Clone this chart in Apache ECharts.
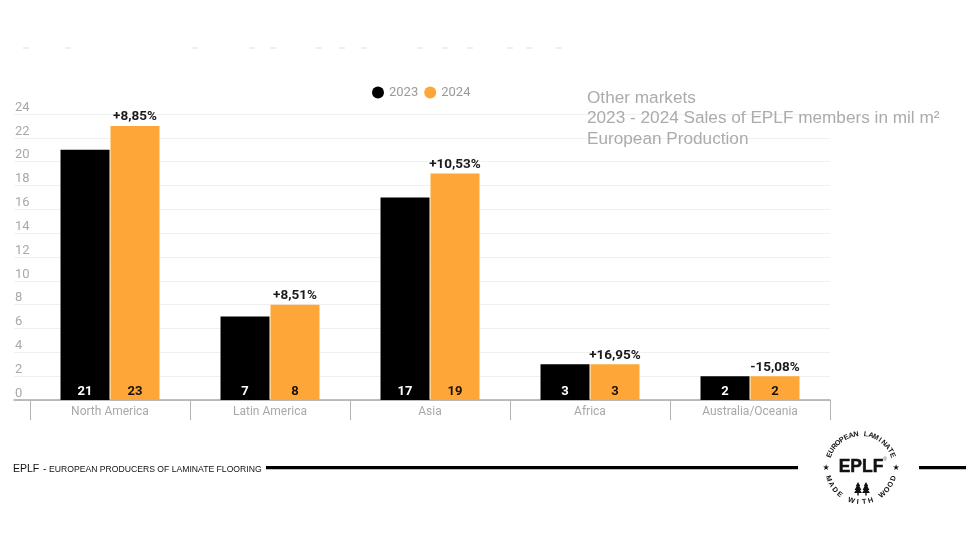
<!DOCTYPE html>
<html><head><meta charset="utf-8">
<style>html,body{margin:0;padding:0;background:#fff}#c{width:980px;height:560px}</style>
<script src="https://cdn.jsdelivr.net/npm/echarts@6/dist/echarts.min.js"></script>
</head><body><div id="c"></div>
<script>
const categories = ['North America','Latin America','Asia','Africa','Australia/Oceania'];
const values2023 = [21,7,17,3,2];
const values2024 = [23,8,19,3,2];
const changeLabels = ['+8,85%','+8,51%','+10,53%','+16,95%','-15,08%'];
const titleLines = ['Other markets','2023 - 2024 Sales of EPLF members in mil m²','European Production'];
const speckX = [26,68,195,252,273,319,342,364,420,445,470,510,529,559];

const CX = 861, CY = 468, R = 34;
const g = [];
titleLines.forEach((t,i)=>g.push({type:'text',x:587,y:[90,110,131][i],z:10,style:{text:t,fill:'#ababab',font:'17.2px "Liberation Sans"'}}));
speckX.forEach(x=>g.push({type:'rect',shape:{x:x-3,y:47.5,width:6,height:1},style:{fill:'#dedede'}}));
g.push({type:'text',x:13,y:464,style:{text:'EPLF',fill:'#111',font:'10.5px "Liberation Sans"'}});
g.push({type:'text',x:43,y:464,style:{text:'-',fill:'#111',font:'10px "Liberation Sans"'}});
g.push({type:'text',x:49,y:465,style:{text:'EUROPEAN PRODUCERS OF LAMINATE FLOORING',fill:'#111',font:'8.65px "Liberation Sans"'}});
g.push({type:'rect',shape:{x:266,y:466,width:532,height:3.2},style:{fill:'#000'}});
g.push({type:'rect',shape:{x:919,y:466,width:47,height:3.2},style:{fill:'#000'}});
function arcText(s,from,to,bottom){
  [...s].forEach((ch,i)=>{
    const a=(from+(to-from)*i/(s.length-1))*Math.PI/180;
    g.push({type:'text',x:CX+R*Math.sin(a),y:CY+(bottom?1:-1)*R*Math.cos(a),
      rotation:bottom?a:-a,
      style:{text:ch,fill:'#111',font:'bold 7.2px "Liberation Sans"',align:'center',verticalAlign:'middle'}});
  });
}
arcText('EUROPEAN LAMINATE',-68,68,false);
arcText('MADE WITH WOOD',-72,72,true);
[-1,1].forEach(s=>g.push({type:'text',x:CX+s*35,y:CY,style:{text:'★',fill:'#111',font:'8px "DejaVu Sans"',align:'center',verticalAlign:'middle'}}));
g.push({type:'text',x:CX,y:CY-1,style:{text:'EPLF',fill:'#111',stroke:'#111',lineWidth:0.5,font:'bold 17.5px "Liberation Sans"',align:'center',verticalAlign:'middle'}});
g.push({type:'text',x:885,y:460,style:{text:'®',fill:'#555',font:'5px "Liberation Sans"',align:'center',verticalAlign:'middle'}});
[858,866].forEach(x=>{
  g.push({type:'polygon',shape:{points:[[x,482],[x+2.2,486],[x+1.4,486],[x+3.4,490],[x+2,490],[x+4,493],[x-4,493],[x-2,490],[x-3.4,490],[x-1.4,486],[x-2.2,486]]},style:{fill:'#111'}});
  g.push({type:'rect',shape:{x:x-0.7,y:493,width:1.4,height:2.5},style:{fill:'#111'}});
});

const barBase = {type:'bar',barWidth:49,barGap:'2%',xAxisIndex:0,yAxisIndex:0};
const countLabel = c => ({show:true,position:'insideBottom',distance:2,color:c,fontFamily:'Roboto',fontWeight:'bold',fontSize:13});
const option = {
  animation:false,
  backgroundColor:'#fff',
  textStyle:{fontFamily:'Roboto'},
  color:['#000','#ffa638'],
  legend:{data:[{name:'2023'},{name:'2024'}],left:367,top:81,icon:'circle',itemWidth:12,itemHeight:12,itemGap:6,
    textStyle:{color:'#9a9a9a',fontFamily:'Roboto',fontSize:13,padding:[0,0,0,0]},selectedMode:false},
  grid:[
    {left:30,width:800,top:114,height:286},
    {left:14,width:816,top:114,height:286}
  ],
  xAxis:[
    {type:'category',gridIndex:0,data:categories,
      axisLine:{show:false},
      axisTick:{show:true,length:20,alignWithLabel:false,lineStyle:{color:'#b5b5b5',width:1}},
      axisLabel:{color:'#a8a8a8',fontFamily:'Roboto',fontSize:12,margin:6}},
    {type:'category',gridIndex:1,data:[''],axisLine:{show:true,lineStyle:{color:'#a8a8a8',width:1.5}},axisTick:{show:false},axisLabel:{show:false}},
    {type:'category',gridIndex:0,data:categories,show:false}
  ],
  yAxis:[
    {type:'value',gridIndex:0,min:0,max:24,interval:2,show:false},
    {type:'value',gridIndex:1,min:0,max:24,interval:2,
      axisLine:{show:false},axisTick:{show:false},
      splitLine:{show:true,lineStyle:{color:'#f0f0f0',width:1}},
      axisLabel:{inside:true,margin:1,align:'left',verticalAlign:'bottom',color:'#a8a8a8',fontFamily:'Roboto',fontSize:13,showMinLabel:true}},
    {type:'value',gridIndex:0,min:0,max:24,interval:2,show:false}
  ],
  series:[
    Object.assign({},barBase,{name:'2023',data:values2023,itemStyle:{color:'#000'},label:countLabel('#fff')}),
    Object.assign({},barBase,{name:'2024',data:values2024,itemStyle:{color:'#ffa638'},label:countLabel('#1a1208')}),
    {type:'bar',name:'spacer',barWidth:49,barGap:'2%',xAxisIndex:2,yAxisIndex:2,data:categories.map(()=>null),silent:true},
    {type:'bar',name:'change',barWidth:49,barGap:'2%',xAxisIndex:2,yAxisIndex:2,data:values2024,silent:true,
      itemStyle:{color:'rgba(0,0,0,0)'},
      label:{show:true,position:'top',distance:2,color:'#1a1a1a',fontFamily:'Roboto',fontWeight:'bold',fontSize:13.5,
        formatter:p=>changeLabels[p.dataIndex]}}
  ],
  graphic:g
};
echarts.init(document.getElementById('c'),null,{renderer:'canvas'}).setOption(option);
</script></body></html>
